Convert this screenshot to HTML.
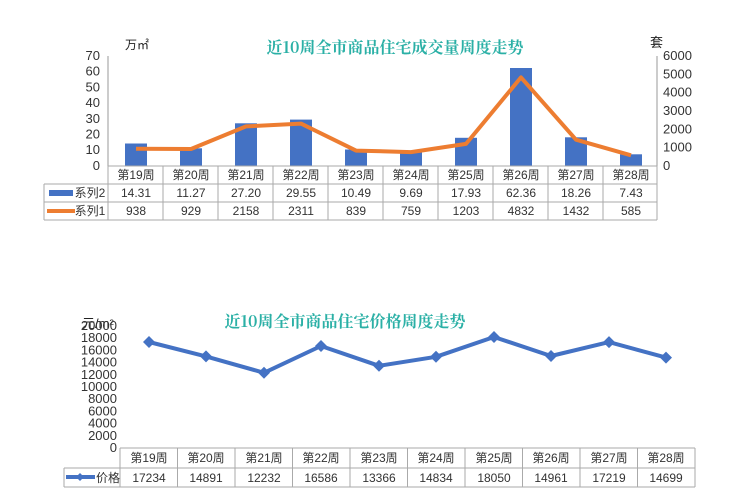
<!DOCTYPE html>
<html><head><meta charset="utf-8"><style>
body{margin:0;background:#fff;}
svg{display:block;font-family:"Liberation Sans","Noto Sans CJK SC",sans-serif;}
</style></head><body>
<svg width="740" height="502" viewBox="0 0 740 502" xmlns="http://www.w3.org/2000/svg">
<rect width="740" height="502" fill="#fff"/>
<!-- Chart 1 -->
<text x="395" y="53" text-anchor="middle" font-size="16" font-weight="bold" fill="#2bb0a6" font-family="'Noto Serif CJK SC','Liberation Serif',serif">近10周全市商品住宅成交量周度走势</text>
<text x="125" y="49" font-size="12" fill="#222">万㎡</text>
<text x="650" y="47" font-size="13" fill="#222">套</text>
<g font-size="13" fill="#333" text-anchor="end">
<text x="100" y="170">0</text><text x="100" y="154">10</text><text x="100" y="138.6">20</text><text x="100" y="122.9">30</text><text x="100" y="107.1">40</text><text x="100" y="91.4">50</text><text x="100" y="75.7">60</text><text x="100" y="60">70</text>
</g>
<g font-size="13" fill="#333">
<text x="663" y="170">0</text><text x="663" y="151.7">1000</text><text x="663" y="133.3">2000</text><text x="663" y="115">3000</text><text x="663" y="96.7">4000</text><text x="663" y="78.3">5000</text><text x="663" y="60">6000</text>
</g>
<line x1="108" y1="56" x2="108" y2="166" stroke="#999"/>
<line x1="657" y1="56" x2="657" y2="166" stroke="#999"/>
<g fill="#4472c4">
<rect x="125" y="143.5" width="22" height="22.5"/>
<rect x="180" y="148.3" width="22" height="17.7"/>
<rect x="235" y="123.3" width="22" height="42.7"/>
<rect x="290" y="119.6" width="22" height="46.4"/>
<rect x="345" y="149.5" width="22" height="16.5"/>
<rect x="400" y="150.8" width="22" height="15.2"/>
<rect x="455" y="137.8" width="22" height="28.2"/>
<rect x="510" y="68" width="22" height="98"/>
<rect x="565" y="137.3" width="22" height="28.7"/>
<rect x="620" y="154.3" width="22" height="11.7"/>
</g>
<polyline fill="none" stroke="#ed7d31" stroke-width="4" stroke-linejoin="round" points="136,148.8 191,149 246,126.4 301,123.6 356,150.6 411,152.1 466,143.9 521,77.4 576,139.7 631,155.3"/>
<g stroke="#aaa" fill="none">
<line x1="108" y1="166" x2="657" y2="166"/>
<line x1="44" y1="184" x2="657" y2="184"/>
<line x1="44" y1="202" x2="657" y2="202"/>
<line x1="44" y1="220" x2="657" y2="220"/>
<line x1="44" y1="184" x2="44" y2="220"/>
<line x1="108" y1="166" x2="108" y2="220"/><line x1="163" y1="166" x2="163" y2="220"/><line x1="218" y1="166" x2="218" y2="220"/><line x1="273" y1="166" x2="273" y2="220"/><line x1="328" y1="166" x2="328" y2="220"/><line x1="383" y1="166" x2="383" y2="220"/><line x1="438" y1="166" x2="438" y2="220"/><line x1="493" y1="166" x2="493" y2="220"/><line x1="548" y1="166" x2="548" y2="220"/><line x1="603" y1="166" x2="603" y2="220"/><line x1="657" y1="166" x2="657" y2="220"/>
</g>
<rect x="49" y="190" width="24" height="6" fill="#4472c4"/>
<line x1="47" y1="211" x2="75" y2="211" stroke="#ed7d31" stroke-width="4"/>
<g font-size="12" fill="#333" text-anchor="middle">
<text x="90" y="197">系列2</text><text x="90" y="215">系列1</text>
<text x="136" y="179">第19周</text><text x="191" y="179">第20周</text><text x="246" y="179">第21周</text><text x="301" y="179">第22周</text><text x="356" y="179">第23周</text><text x="411" y="179">第24周</text><text x="466" y="179">第25周</text><text x="521" y="179">第26周</text><text x="576" y="179">第27周</text><text x="631" y="179">第28周</text>
<text x="136" y="197">14.31</text><text x="191" y="197">11.27</text><text x="246" y="197">27.20</text><text x="301" y="197">29.55</text><text x="356" y="197">10.49</text><text x="411" y="197">9.69</text><text x="466" y="197">17.93</text><text x="521" y="197">62.36</text><text x="576" y="197">18.26</text><text x="631" y="197">7.43</text>
<text x="136" y="215">938</text><text x="191" y="215">929</text><text x="246" y="215">2158</text><text x="301" y="215">2311</text><text x="356" y="215">839</text><text x="411" y="215">759</text><text x="466" y="215">1203</text><text x="521" y="215">4832</text><text x="576" y="215">1432</text><text x="631" y="215">585</text>
</g>
<!-- Chart 2 -->
<text x="345" y="327" text-anchor="middle" font-size="16" font-weight="bold" fill="#2bb0a6" font-family="'Noto Serif CJK SC','Liberation Serif',serif">近10周全市商品住宅价格周度走势</text>
<text x="82" y="328" font-size="13" fill="#222">元/m²</text>
<g font-size="13" fill="#333" text-anchor="end">
<text x="117" y="452">0</text><text x="117" y="440">2000</text><text x="117" y="427.6">4000</text><text x="117" y="415.4">6000</text><text x="117" y="403.2">8000</text><text x="117" y="391">10000</text><text x="117" y="378.8">12000</text><text x="117" y="366.6">14000</text><text x="117" y="354.4">16000</text><text x="117" y="342.2">18000</text><text x="117" y="330">20000</text>
</g>
<polyline fill="none" stroke="#4472c4" stroke-width="4" stroke-linejoin="round" points="149,342 206,356.4 264,372.8 321,346 379,365.8 436,356.8 494,337 551,356 609,342.1 666,357.6"/>
<g fill="#4472c4">
<path d="M149 336l6 6-6 6-6-6z"/><path d="M206 350.4l6 6-6 6-6-6z"/><path d="M264 366.8l6 6-6 6-6-6z"/><path d="M321 340l6 6-6 6-6-6z"/><path d="M379 359.8l6 6-6 6-6-6z"/><path d="M436 350.8l6 6-6 6-6-6z"/><path d="M494 331l6 6-6 6-6-6z"/><path d="M551 350l6 6-6 6-6-6z"/><path d="M609 336.1l6 6-6 6-6-6z"/><path d="M666 351.6l6 6-6 6-6-6z"/>
<path d="M80 473l4 4-4 4-4-4z"/>
</g>
<line x1="66" y1="477" x2="95" y2="477" stroke="#4472c4" stroke-width="4"/>
<g stroke="#aaa" fill="none">
<line x1="120" y1="448" x2="695" y2="448"/>
<line x1="64" y1="468" x2="695" y2="468"/>
<line x1="64" y1="487" x2="695" y2="487"/>
<line x1="64" y1="468" x2="64" y2="487"/>
<line x1="120" y1="448" x2="120" y2="487"/><line x1="177.5" y1="448" x2="177.5" y2="487"/><line x1="235" y1="448" x2="235" y2="487"/><line x1="292.5" y1="448" x2="292.5" y2="487"/><line x1="350" y1="448" x2="350" y2="487"/><line x1="407.5" y1="448" x2="407.5" y2="487"/><line x1="465" y1="448" x2="465" y2="487"/><line x1="522.5" y1="448" x2="522.5" y2="487"/><line x1="580" y1="448" x2="580" y2="487"/><line x1="637.5" y1="448" x2="637.5" y2="487"/><line x1="695" y1="448" x2="695" y2="487"/>
</g>
<g font-size="12" fill="#333" text-anchor="middle">
<text x="108" y="482">价格</text>
<text x="149" y="462">第19周</text><text x="206" y="462">第20周</text><text x="264" y="462">第21周</text><text x="321" y="462">第22周</text><text x="379" y="462">第23周</text><text x="436" y="462">第24周</text><text x="494" y="462">第25周</text><text x="551" y="462">第26周</text><text x="609" y="462">第27周</text><text x="666" y="462">第28周</text>
<text x="149" y="482">17234</text><text x="206" y="482">14891</text><text x="264" y="482">12232</text><text x="321" y="482">16586</text><text x="379" y="482">13366</text><text x="436" y="482">14834</text><text x="494" y="482">18050</text><text x="551" y="482">14961</text><text x="609" y="482">17219</text><text x="666" y="482">14699</text>
</g>
</svg>
</body></html>
